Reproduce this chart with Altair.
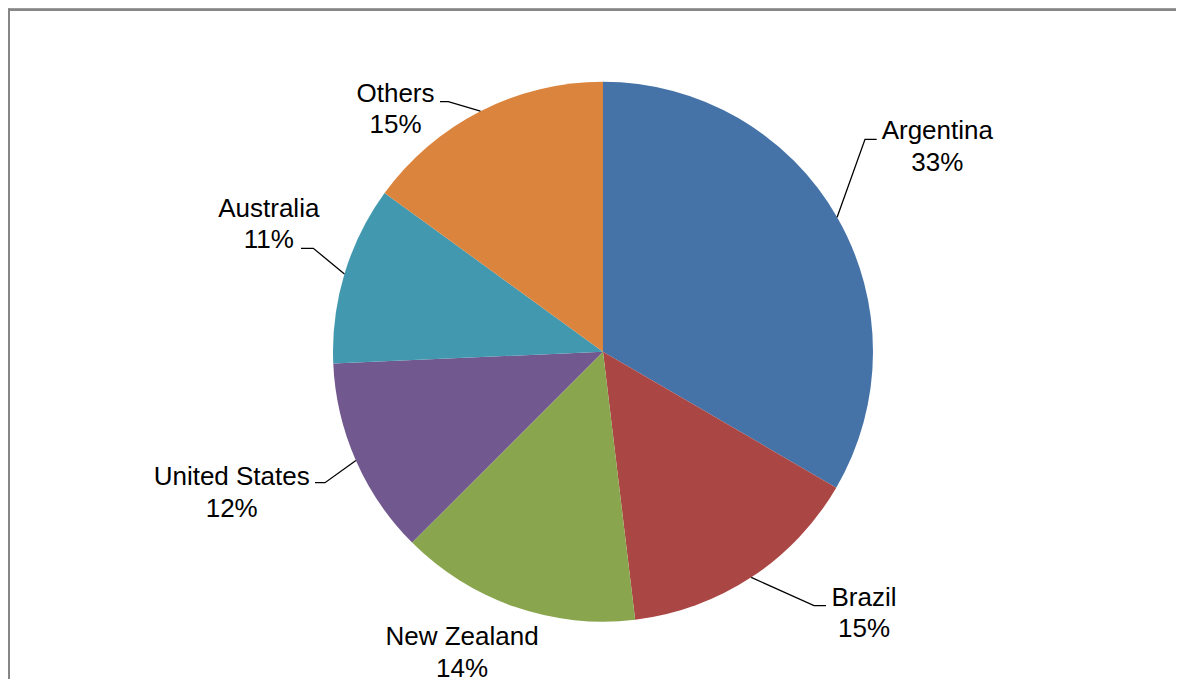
import math
import altair as alt
import pandas as pd

# ---- data ----
categories = ["Argentina", "Brazil", "New Zealand", "United States", "Australia", "Others"]
shares = [33.4, 14.7, 14.4, 11.8, 10.7, 15.0]
colors = ["#4572A7", "#AA4643", "#89A54E", "#71588F", "#4198AF", "#DB843D"]

# ---- layout (page pixels) ----
M = 8
W, H = 1184 - 2 * M, 687 - 2 * M
CX, CY, R = 603, 351.7, 270
label_x = [937.3, 864, 462, 231.7, 268.8, 395.5]
label_base = [139.3, 605.5, 645, 485, 216.5, 101.5]
LINE = 31.5
leader_elbow = [(865, 139.3), (814, 605.7), None, (325, 482.7), (313.3, 248.3), (448.3, 101.7)]
leader_end = [(876.7, 139.3), (826, 605.7), None, (315, 482.7), (301, 248.3), (440, 101.7)]
FONT = "Liberation Sans"

total = sum(shares)
pie_df = pd.DataFrame({"category": categories, "share": shares, "idx": list(range(len(shares)))})

text_rows = []
lead_rows = []
cum = 0.0
for i, (c, v) in enumerate(zip(categories, shares)):
    mid = (cum + v / 2) / total * 2 * math.pi
    cum += v
    pct = f"{round(100 * v / total)}%"
    text_rows.append({"x": label_x[i], "y": label_base[i], "t": c})
    text_rows.append({"x": label_x[i], "y": label_base[i] + LINE, "t": pct})
    if leader_elbow[i] is not None:
        ex = CX + R * math.sin(mid)
        ey = CY - R * math.cos(mid)
        pts = [(ex, ey), leader_elbow[i], leader_end[i]]
        for k, (px, py) in enumerate(pts):
            lead_rows.append({"category": c, "pt": k, "x": px, "y": py})

text_df = pd.DataFrame(text_rows)
lead_df = pd.DataFrame(lead_rows)

xs = alt.Scale(domain=[M, M + W], nice=False, zero=False)
ys = alt.Scale(domain=[M, M + H], nice=False, zero=False, reverse=True)

pie = alt.Chart(pie_df).mark_arc(radius=R).encode(
    theta=alt.Theta("share:Q", stack=True),
    color=alt.Color("category:N", scale=alt.Scale(domain=categories, range=colors), legend=None),
    order=alt.Order("idx:Q"),
    x=alt.value(CX - M),
    y=alt.value(CY - M),
)

leaders = alt.Chart(lead_df).mark_line(color="#000000", strokeWidth=1.3).encode(
    x=alt.X("x:Q", scale=xs, axis=None),
    y=alt.Y("y:Q", scale=ys, axis=None),
    detail="category:N",
    order="pt:Q",
)

labels = alt.Chart(text_df).mark_text(
    font=FONT, fontSize=26, color="#000000", align="center", baseline="alphabetic"
).encode(
    x=alt.X("x:Q", scale=xs, axis=None),
    y=alt.Y("y:Q", scale=ys, axis=None),
    text="t:N",
)

frame_top = alt.Chart(pie_df).mark_rule(color="#868686", strokeWidth=2).encode(
    x=alt.value(0.8), x2=alt.value(W + 2), y=alt.value(1.8), y2=alt.value(1.8)
)
frame_left = alt.Chart(pie_df).mark_rule(color="#868686", strokeWidth=2).encode(
    x=alt.value(0.8), x2=alt.value(0.8), y=alt.value(0.8), y2=alt.value(H + 2)
)

chart = alt.layer(frame_top, frame_left, pie, leaders, labels).properties(
    width=W, height=H, padding=0, autosize=alt.AutoSizeParams(type="none")
).configure_view(strokeOpacity=0, strokeWidth=0)

chart.save("out.html", embed_options={"renderer": "svg", "actions": False})
